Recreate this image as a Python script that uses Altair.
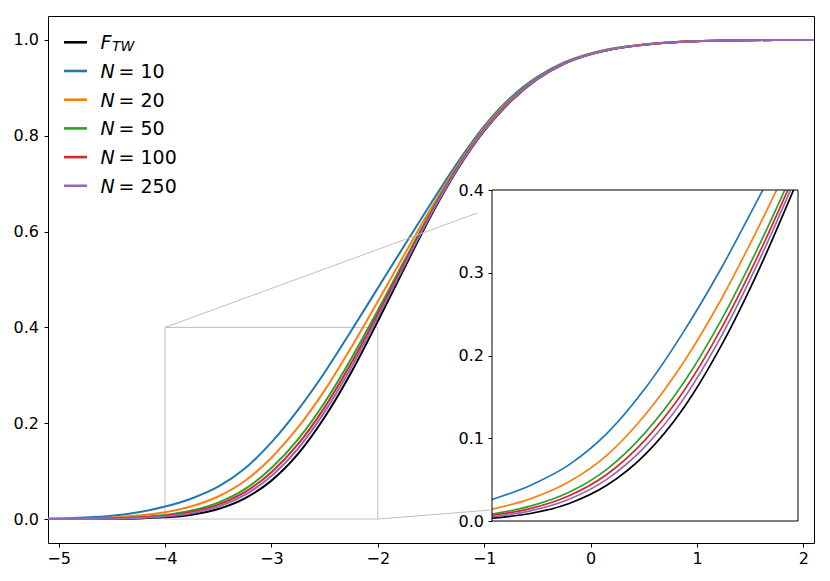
import altair as alt
import pandas as pd

# ---------------- data ----------------
xs = [-5.1, -5.0, -4.75, -4.5, -4.25, -4.0, -3.75, -3.5, -3.25, -3.0, -2.75, -2.5,
      -2.25, -2.0, -1.75, -1.5, -1.25, -1.0, -0.75, -0.5, -0.25, 0.0, 0.25, 0.5,
      0.75, 1.0, 1.25, 1.5, 1.75, 2.0, 2.1]

f_tw = [0.0000, 0.0000, 0.0001, 0.0004, 0.0012, 0.0035, 0.0091, 0.0209, 0.0431, 0.0802,
        0.1360, 0.2125, 0.3060, 0.4128, 0.5240, 0.6330, 0.7300, 0.8100, 0.8720, 0.9180,
        0.9500, 0.9700, 0.9825, 0.9900, 0.9948, 0.9975, 0.9989, 0.9995, 0.9998, 0.9999, 1.0000]
n10 = [0.0009, 0.0013, 0.0031, 0.0068, 0.0142, 0.0260, 0.0430, 0.0675, 0.1055, 0.1600,
       0.2280, 0.3060, 0.3930, 0.4820, 0.5710, 0.6590, 0.7440, 0.8200, 0.8800, 0.9230,
       0.9530, 0.9718, 0.9836, 0.9907, 0.9952, 0.9977, 0.9990, 0.9995, 0.9998, 0.9999, 1.0000]
n20 = [0.0004, 0.0005, 0.0014, 0.0032, 0.0072, 0.0143, 0.0267, 0.0470, 0.0793, 0.1281,
       0.1912, 0.2686, 0.3582, 0.4543, 0.5522, 0.6486, 0.7384, 0.8160, 0.8768, 0.9210,
       0.9518, 0.9711, 0.9832, 0.9904, 0.9950, 0.9976, 0.9989, 0.9995, 0.9998, 0.9999, 1.0000]
n50 = [0.0002, 0.0002, 0.0007, 0.0017, 0.0039, 0.0085, 0.0179, 0.0344, 0.0624, 0.1065,
       0.1664, 0.2434, 0.3347, 0.4356, 0.5395, 0.6416, 0.7346, 0.8133, 0.8746, 0.9197,
       0.9510, 0.9706, 0.9829, 0.9902, 0.9949, 0.9975, 0.9989, 0.9995, 0.9998, 0.9999, 1.0000]
n100 = [0.0001, 0.0002, 0.0005, 0.0012, 0.0030, 0.0069, 0.0150, 0.0302, 0.0562, 0.0978,
        0.1562, 0.2331, 0.3251, 0.4280, 0.5343, 0.6387, 0.7331, 0.8122, 0.8738, 0.9191,
        0.9507, 0.9704, 0.9827, 0.9902, 0.9949, 0.9975, 0.9989, 0.9995, 0.9998, 0.9999, 1.0000]
n250 = [0.0001, 0.0001, 0.0003, 0.0008, 0.0022, 0.0053, 0.0123, 0.0260, 0.0503, 0.0898,
        0.1470, 0.2237, 0.3164, 0.4211, 0.5296, 0.6361, 0.7317, 0.8112, 0.8730, 0.9186,
        0.9504, 0.9702, 0.9826, 0.9901, 0.9948, 0.9975, 0.9989, 0.9995, 0.9998, 0.9999, 1.0000]

series_keys = ["F_TW", "N=10", "N=20", "N=50", "N=100", "N=250"]
series_vals = [f_tw, n10, n20, n50, n100, n250]
series_colors = ["#000000", "#1f77b4", "#ff7f0e", "#2ca02c", "#d62728", "#9467bd"]
legend_numbers = ["", "10", "20", "50", "100", "250"]

main_x_domain = [-5.1, 2.1]
main_y_domain = [-0.05, 1.05]
main_x_ticks = [-5, -4, -3, -2, -1, 0, 1, 2]
main_y_ticks = [0.0, 0.2, 0.4, 0.6, 0.8, 1.0]
inset_x_domain = [-4.0, -2.0]
inset_y_domain = [0.0, 0.4]
inset_y_ticks = [0.0, 0.1, 0.2, 0.3, 0.4]

# connector lines of the zoom marker (main data coordinates)
conn_x = [-4.0, -2.0]
conn_y = [0.4, 0.0]
conn_x2 = [-1.067, -0.93]
conn_y2 = [0.6386, 0.019]

# ---------------- layout (pixels) ----------------
W, H = 766, 527
INSET_X_RANGE = [444, 750]
INSET_Y_RANGE = [505, 174]
FONT = "DejaVu Sans"
TICK_FS = 16
LEG_FS = 19

rows = []
for k, vals in zip(series_keys, series_vals):
    for x, y in zip(xs, vals):
        rows.append({"x": x, "y": y, "s": k})
df = pd.DataFrame(rows)
df_in = df[(df.x >= inset_x_domain[0]) & (df.x <= inset_x_domain[1])]


def sx_main():
    return alt.Scale(domain=main_x_domain, nice=False, zero=False)


def sy_main():
    return alt.Scale(domain=main_y_domain, nice=False, zero=False)


def sx_in():
    return alt.Scale(domain=inset_x_domain, range=INSET_X_RANGE, nice=False, zero=False)


def sy_in():
    return alt.Scale(domain=inset_y_domain, range=INSET_Y_RANGE, nice=False, zero=False)


ax_common = dict(grid=False, domain=False, title=None, tickSize=4, tickColor="black",
                 labelColor="black", labelFontSize=TICK_FS, labelFont=FONT, tickWidth=1)
x_axis_main = alt.Axis(values=main_x_ticks, format="d", orient="bottom", labelPadding=3,
                       **ax_common)
y_axis_main = alt.Axis(values=main_y_ticks, format=".1f", orient="left", labelPadding=5.5,
                       **ax_common)
y_axis_in = alt.Axis(values=inset_y_ticks, format=".1f", orient="left", labelPadding=4.5,
                     offset=-INSET_X_RANGE[0], **ax_common)

layers = []

# main-axes carrier + zoom marker rectangle
zoom_rect = alt.Chart(pd.DataFrame({"x0": [inset_x_domain[0]], "x1": [inset_x_domain[1]],
                                    "y0": [inset_y_domain[0]], "y1": [inset_y_domain[1]]})
                      ).mark_rect(fillOpacity=0, stroke="#bfbfbf", strokeWidth=1).encode(
    x=alt.X("x0:Q", scale=sx_main(), axis=x_axis_main),
    x2="x1:Q",
    y=alt.Y("y0:Q", scale=sy_main(), axis=y_axis_main),
    y2="y1:Q",
)
layers.append(zoom_rect)

for k, c in zip(series_keys, series_colors):
    layers.append(
        alt.Chart(df[df.s == k]).mark_line(color=c, strokeWidth=2, interpolate="monotone",
                                           clip=True).encode(
            x=alt.X("x:Q", scale=sx_main(), axis=None),
            y=alt.Y("y:Q", scale=sy_main(), axis=None),
        )
    )

layers.append(
    alt.Chart(pd.DataFrame({"x": conn_x, "y": conn_y, "x2": conn_x2, "y2": conn_y2})
              ).mark_rule(color="#bfbfbf", strokeWidth=1).encode(
        x=alt.X("x:Q", scale=sx_main(), axis=None),
        y=alt.Y("y:Q", scale=sy_main(), axis=None),
        x2="x2:Q", y2="y2:Q",
    )
)

# legend (drawn by hand to keep the math-style italics)
LEG_Y0, LEG_DY = 26.3, 28.7
leg = pd.DataFrame({
    "key": series_keys, "color": series_colors, "num": legend_numbers,
    "ly": [LEG_Y0 + i * LEG_DY for i in range(len(series_keys))],
})
leg["lb"] = leg["ly"] + 7.0
leg_n = leg[leg.key != "F_TW"]
leg_f = leg[leg.key == "F_TW"]

layers.append(alt.Chart(leg).mark_rule(strokeWidth=2.6).encode(
    x=alt.value(16), x2=alt.value(39),
    y=alt.Y("ly:Q", scale=None),
    color=alt.Color("color:N", scale=None),
))
txt = dict(font=FONT, baseline="alphabetic", color="black")
layers.append(alt.Chart(leg_n).mark_text(text="N", fontStyle="italic", fontSize=LEG_FS,
                                         align="left", **txt).encode(
    x=alt.value(52.5), y=alt.Y("lb:Q", scale=None)))
layers.append(alt.Chart(leg_n).mark_text(text="=", fontSize=LEG_FS, align="center", **txt).encode(
    x=alt.value(78.5), y=alt.Y("lb:Q", scale=None)))
layers.append(alt.Chart(leg_n).mark_text(fontSize=LEG_FS, align="left", **txt).encode(
    x=alt.value(92.5), y=alt.Y("lb:Q", scale=None), text="num:N"))
layers.append(alt.Chart(leg_f).mark_text(text="F", fontStyle="italic", fontSize=LEG_FS,
                                         align="left", **txt).encode(
    x=alt.value(52.5), y=alt.Y("lb:Q", scale=None)))
layers.append(alt.Chart(leg_f).mark_text(text="TW", fontStyle="italic", fontSize=14,
                                         align="left", dy=2, **txt).encode(
    x=alt.value(64), y=alt.Y("lb:Q", scale=None)))

# ---------------- inset ----------------
box_df = pd.DataFrame({"x0": [inset_x_domain[0]], "x1": [inset_x_domain[1]],
                       "y0": [inset_y_domain[0]], "y1": [inset_y_domain[1]]})
layers.append(alt.Chart(box_df).mark_rect(fill="white", strokeWidth=0).encode(
    x=alt.X("x0:Q", scale=sx_in(), axis=None),
    x2="x1:Q",
    y=alt.Y("y0:Q", scale=sy_in(), axis=y_axis_in),
    y2="y1:Q",
))
for k, c in zip(series_keys, series_colors):
    layers.append(
        alt.Chart(df_in[df_in.s == k]).mark_line(color=c, strokeWidth=1.7,
                                                 interpolate="monotone").encode(
            x=alt.X("x:Q", scale=sx_in(), axis=None),
            y=alt.Y("y:Q", scale=sy_in(), axis=None),
        )
    )
# white cover for the part of the zoomed curves above the inset's top edge
layers.append(alt.Chart(pd.DataFrame({"x0": [-2.3], "x1": [-1.99], "y0": [0.4], "y1": [0.5]})
                        ).mark_rect(fill="white", strokeWidth=0).encode(
    x=alt.X("x0:Q", scale=sx_in(), axis=None), x2="x1:Q",
    y=alt.Y("y0:Q", scale=sy_in(), axis=None), y2="y1:Q",
))
layers.append(alt.Chart(box_df).mark_rect(fillOpacity=0, stroke="black", strokeWidth=1).encode(
    x=alt.X("x0:Q", scale=sx_in(), axis=None), x2="x1:Q",
    y=alt.Y("y0:Q", scale=sy_in(), axis=None), y2="y1:Q",
))

chart = alt.layer(*layers).resolve_scale(x="independent", y="independent").properties(
    width=W, height=H,
    autosize=alt.AutoSizeParams(type="none"),
    padding={"left": 40, "top": 8, "right": 8, "bottom": 30},
    background="white",
).configure_view(stroke="black", strokeWidth=1).configure_axis(labelFont=FONT)

chart.save("out.html", embed_options={"renderer": "svg", "actions": False})
